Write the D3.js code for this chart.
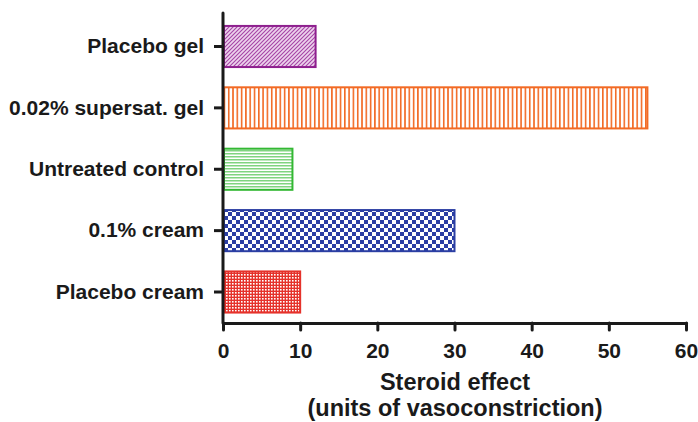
<!DOCTYPE html>
<html><head><meta charset="utf-8">
<script src="https://cdn.jsdelivr.net/npm/d3@7"></script>
<style>body{margin:0;background:#fff}svg{display:block}text{font-family:"Liberation Sans",Arial,sans-serif;font-weight:bold;fill:#1a1a1a}</style>
</head><body>
<svg id="c" width="698" height="422"></svg>
<script>
const categories = ["Placebo gel","0.02% supersat. gel","Untreated control","0.1% cream","Placebo cream"];
const values = [12, 55, 9, 30, 10];
const colors = ["#8e1f8e","#f26a24","#33b833","#2b3ea3","#e5322b"];
const xTicks = [0,10,20,30,40,50,60];

const svg = d3.select("#c");
const mLeft = 223, mRight = 686, mTop = 13, mBottom = 323;
const x = d3.scaleLinear().domain([0,60]).range([mLeft,mRight]);
const y = d3.scaleBand().domain(categories).range([15.5,323]).paddingInner(0.33).paddingOuter(0.17);

const defs = svg.append("defs");
function mk(id,w,h){return defs.append("pattern").attr("id",id).attr("patternUnits","userSpaceOnUse").attr("width",w).attr("height",h);}
// diag
let p = mk("p0",4,4);
p.append("rect").attr("width",4).attr("height",4).attr("fill","#edd3ed");
p.append("path").attr("d","M-1,1 L1,-1 M0,4 L4,0 M3,5 L5,3").attr("stroke","#a543a5").attr("stroke-width",1.1);
// vert
p = mk("p1",4.3,10);
p.append("rect").attr("width",4.3).attr("height",10).attr("fill","#fff");
p.append("rect").attr("x",0).attr("width",1.6).attr("height",10).attr("fill",colors[1]);
// horiz
p = mk("p2",10,3);
p.append("rect").attr("width",10).attr("height",3).attr("fill","#fff");
p.append("rect").attr("y",0).attr("width",10).attr("height",1.5).attr("fill","#7fd47f");
// check
p = mk("p3",8,8);
p.append("rect").attr("width",8).attr("height",8).attr("fill","#fff");
p.append("rect").attr("width",4).attr("height",4).attr("fill",colors[3]);
p.append("rect").attr("x",4).attr("y",4).attr("width",4).attr("height",4).attr("fill",colors[3]);
// fine check
p = mk("p4",3,3);
p.append("rect").attr("width",3).attr("height",3).attr("fill",colors[4]);
p.append("rect").attr("x",1).attr("y",1).attr("width",1.6).attr("height",1.6).attr("fill","#fff");

svg.selectAll("rect.bar").data(categories).enter().append("rect").attr("class","bar")
  .attr("x",x(0)+1).attr("y",d=>y(d))
  .attr("width",(d,i)=>x(values[i])-x(0)-1).attr("height",y.bandwidth())
  .attr("fill",(d,i)=>`url(#p${i})`)
  .attr("stroke",(d,i)=>colors[i]).attr("stroke-width",2);

// x axis
const xa = svg.append("g").attr("transform",`translate(0,${mBottom})`)
  .call(d3.axisBottom(x).tickValues(xTicks).tickSize(7).tickSizeOuter(0).tickPadding(13));
xa.select(".domain").attr("stroke","#1a1a1a").attr("stroke-width",3).attr("stroke-linecap","round");
xa.selectAll(".tick line").attr("stroke","#1a1a1a").attr("stroke-width",3).attr("stroke-linecap","round");
xa.selectAll("text").style("font-size","21px").attr("dy","0.72em");

// y axis
const ya = svg.append("g").attr("transform",`translate(${mLeft},0)`)
  .call(d3.axisLeft(y).tickSize(9).tickSizeOuter(0).tickPadding(10));
ya.select(".domain").attr("d",`M0,${mTop}V${mBottom}`).attr("stroke","#1a1a1a").attr("stroke-width",3).attr("stroke-linecap","round");
ya.selectAll(".tick line").attr("stroke","#1a1a1a").attr("stroke-width",3);
ya.selectAll("text").style("font-size","21px");

svg.append("text").attr("x",455).attr("y",390).attr("text-anchor","middle").style("font-size","23.5px").text("Steroid effect");
svg.append("text").attr("x",455).attr("y",416).attr("text-anchor","middle").style("font-size","23.5px").text("(units of vasoconstriction)");
</script>
</body></html>
